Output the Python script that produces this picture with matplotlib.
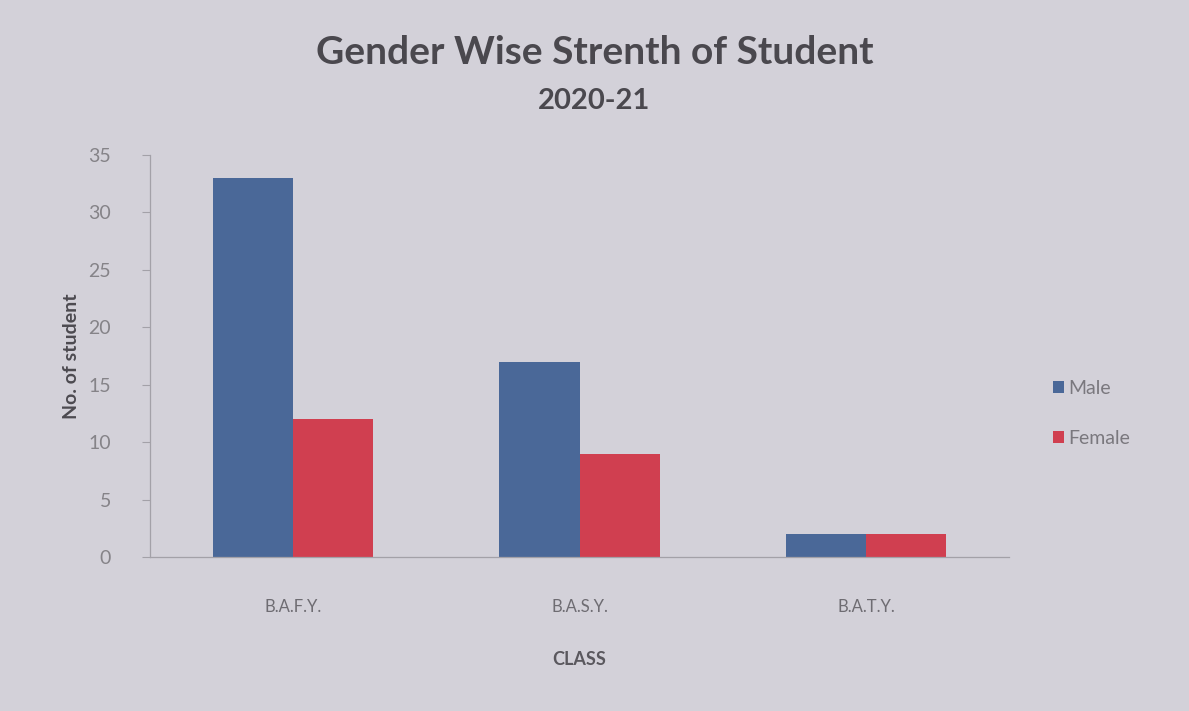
import numpy as np
import matplotlib.pyplot as plt

# Data
classes = ["B.A.F.Y.", "B.A.S.Y.", "B.A.T.Y."]
male = [33, 17, 2]
female = [12, 9, 2]
yticks = [0, 5, 10, 15, 20, 25, 30, 35]

plt.rcParams['font.family'] = ['Lato', 'DejaVu Sans']

bg = '#d3d1d9'
fig = plt.figure(figsize=(11.89, 7.11), dpi=100, facecolor=bg)
ax = fig.add_axes([0.126, 0.2166, 0.723, 0.5654], facecolor=bg)

x = np.arange(len(classes))
w = 0.28
ax.bar(x - w / 2, male, w, color='#4a6898', label='Male')
ax.bar(x + w / 2, female, w, color='#d03f50', label='Female')

ax.set_xlim(-0.5, len(classes) - 0.5)
ax.set_ylim(0, 35)
ax.set_yticks(yticks)
ax.set_xticks(x)
ax.set_xticklabels(classes)

for s in ['top', 'right']:
    ax.spines[s].set_visible(False)
for s in ['left', 'bottom']:
    ax.spines[s].set_color('#a3a1a8')
    ax.spines[s].set_linewidth(0.9)

ax.tick_params(axis='y', colors='#a3a1a8', labelcolor='#858388', labelsize=14,
               length=6, direction='out', pad=22)
ax.tick_params(axis='x', length=0, labelcolor='#6e6c72', labelsize=12, pad=30)

ax.set_xlabel("CLASS", fontsize=13, color='#5a585e', fontweight='bold', labelpad=26)
ax.set_ylabel("No. of student", fontsize=14, color='#4c4a50', fontweight='bold', labelpad=6)

fig.text(0.5, 0.926, "Gender Wise Strenth of Student", ha='center', va='center',
         fontsize=28, fontweight='bold', color='#4a484e')
fig.text(0.5, 0.858, "2020-21", ha='center', va='center',
         fontsize=21, fontweight='bold', color='#4a484e')

ax.legend(loc='center left', bbox_to_anchor=(1.03, 0.358), frameon=False,
          fontsize=14, labelcolor='#7a787e', handlelength=0.6, handleheight=0.6,
          handletextpad=0.2, labelspacing=1.7)

fig.savefig("out.png", dpi=100, facecolor=bg)
